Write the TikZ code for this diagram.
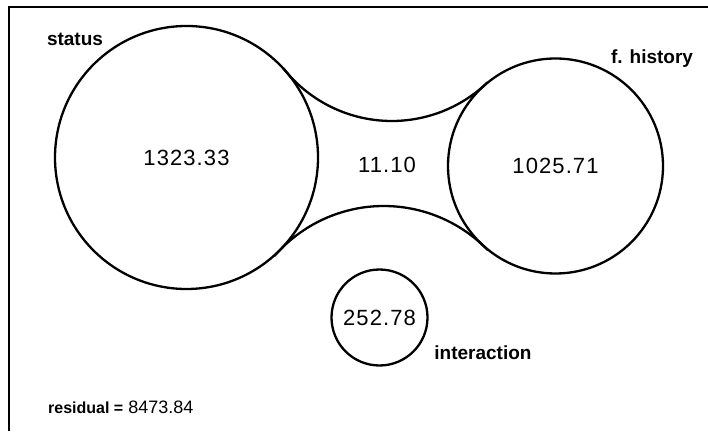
\documentclass[tikz,border=0pt]{standalone}
\usepackage{fontspec}
\setmainfont{Liberation Sans}
\newfontfamily\numfont[LetterSpace=5]{Liberation Sans}
\begin{document}
\begin{tikzpicture}[x=1pt,y=1pt,
  ring/.style={draw,circle,line width=2.3pt,inner sep=0pt,
    font=\numfont\fontsize{22}{26}\selectfont},
  lbl/.style={font=\bfseries\fontsize{19}{23}\selectfont,inner sep=0pt},
  numtxt/.style={font=\numfont\fontsize{22}{26}\selectfont,inner sep=0pt},
  edge/.style={line width=2.3pt}]
\useasboundingbox (0,0) rectangle (708,431);
% frame
\coordinate (fl) at (9,0);
\coordinate (ftl) at (9,424);
\coordinate (ftr) at (708,424);
\draw[line width=2.3pt] (fl) -- (ftl) -- (ftr);
% circles
\node[ring,minimum size=263pt] (status) at (186.5,273.5) {1323.33};
\node[ring,minimum size=215pt] (hist) at (555.5,265) {1025.71};
\node[ring,minimum size=96pt] (inter) at (379.5,113.5) {252.78};
% connecting arcs
\coordinate (c1) at (391.8,448);
\coordinate (c2) at (383.8,80.4);
\draw[edge] (c1) ++(218:138) arc[start angle=218,end angle=314,radius=138];
\draw[edge] (c2) ++(44:144.6) arc[start angle=44,end angle=139,radius=144.6];
% texts
\node[numtxt] (mid) at (387,266) {11.10};
\node[lbl] (lstatus) at (75,391.5) {status};
\node[lbl] (lhist) at (652,372.5) {f. history};
\node[lbl] (linter) at (483,78.5) {interaction};
\node[inner sep=0pt,anchor=west,font=\fontsize{18}{22}\selectfont] (resid) at (48,24)
  {{\bfseries\fontsize{16}{20}\selectfont residual =}\ 8473.84};
\end{tikzpicture}
\end{document}
